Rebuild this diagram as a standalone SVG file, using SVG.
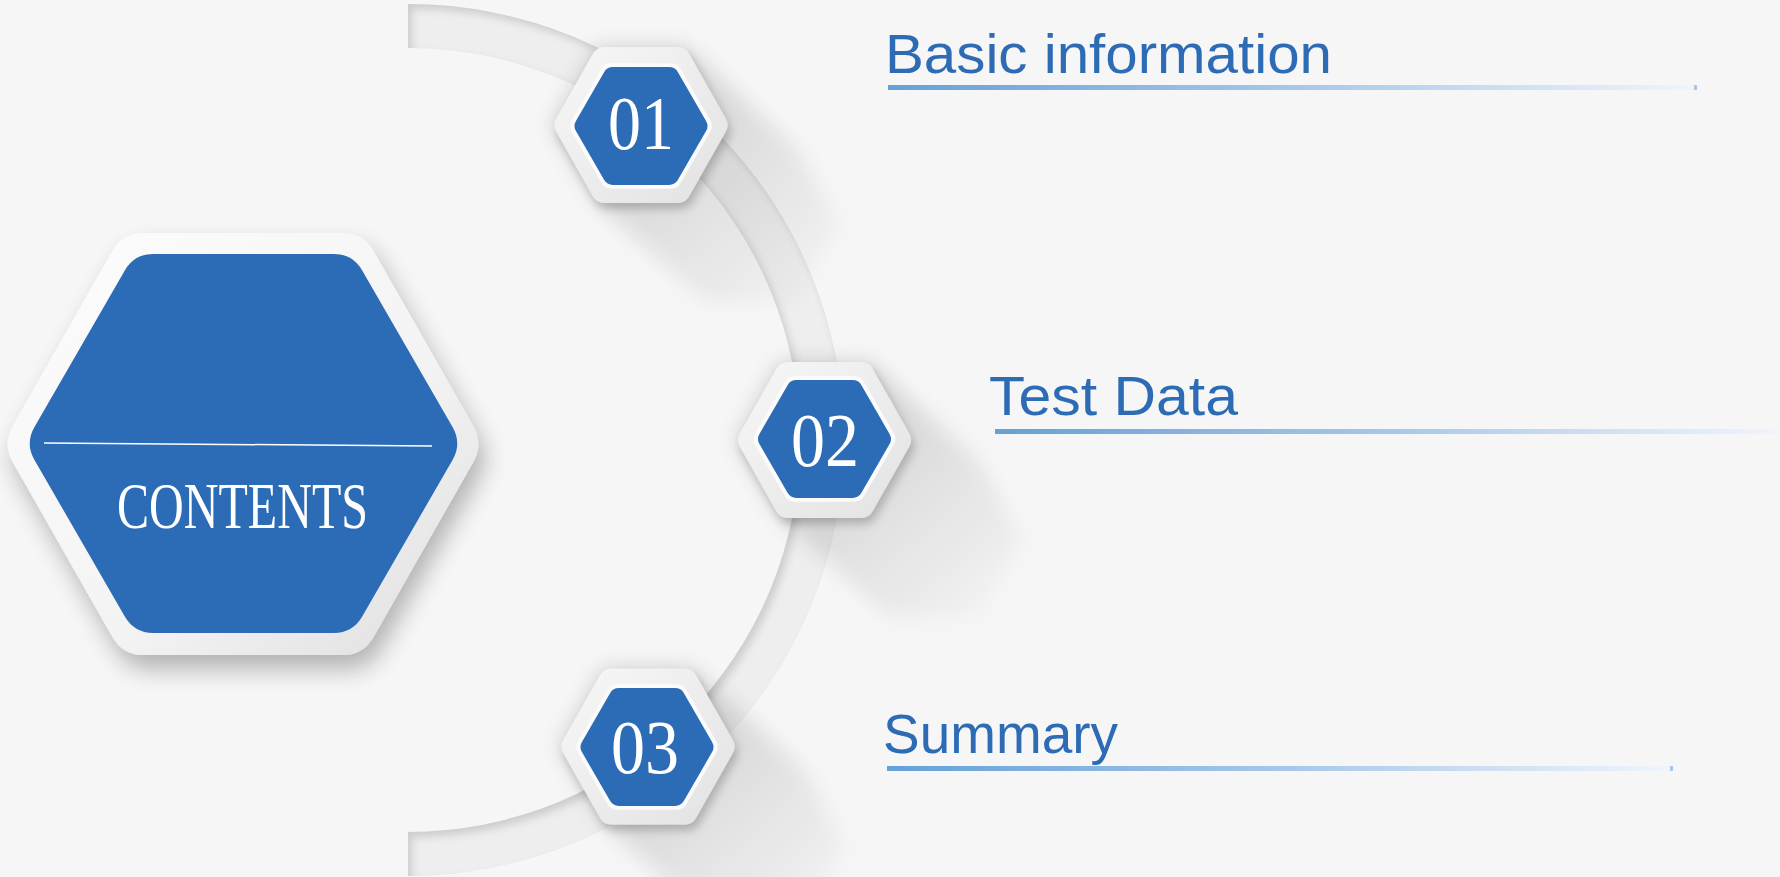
<svg xmlns="http://www.w3.org/2000/svg" width="1780" height="877" viewBox="0 0 1780 877">
<defs>
<style>
.blue{fill:#2c6cb6}
.num{font-family:"Liberation Serif","Times New Roman",serif;fill:#ffffff;font-size:76px;text-anchor:middle}
.lbl{font-family:"Liberation Sans",Arial,sans-serif;fill:#2d6cb5;font-size:56px}
.ul{fill:url(#ulg)}
.tick{fill:#a8c7e8}
</style>
<path id="hex" d="M-95.67,-7.5 L-54.33,-79.1 Q-50,-86.6 -41.34,-86.6 L41.34,-86.6 Q50,-86.6 54.33,-79.1 L95.67,-7.5 Q100,0 95.67,7.5 L54.33,79.1 Q50,86.6 41.34,86.6 L-41.34,86.6 Q-50,86.6 -54.33,79.1 L-95.67,7.5 Q-100,0 -95.67,-7.5 Z"/>
<linearGradient id="ulg" x1="0" y1="0" x2="1" y2="0">
<stop offset="0" stop-color="#66a0d8"/>
<stop offset="0.5" stop-color="#a6c7e9"/>
<stop offset="1" stop-color="#f0f5fb"/>
</linearGradient>
<linearGradient id="outerG" x1="0" y1="0" x2="1" y2="1">
<stop offset="0" stop-color="#fdfdfd"/>
<stop offset="0.6" stop-color="#f3f3f3"/>
<stop offset="1" stop-color="#dedede"/>
</linearGradient>
<linearGradient id="smallG" x1="0" y1="0" x2="1" y2="1">
<stop offset="0" stop-color="#f7f7f7"/>
<stop offset="1" stop-color="#e2e2e2"/>
</linearGradient>
<linearGradient id="longSh" x1="0.2" y1="0.2" x2="1" y2="1">
<stop offset="0" stop-color="#000" stop-opacity="0.16"/>
<stop offset="1" stop-color="#000" stop-opacity="0"/>
</linearGradient>
<filter id="drop" x="-20%" y="-20%" width="150%" height="150%">
<feGaussianBlur in="SourceAlpha" stdDeviation="12"/>
<feOffset dx="6" dy="14"/>
<feComponentTransfer><feFuncA type="linear" slope="0.28"/></feComponentTransfer>
<feMerge><feMergeNode/><feMergeNode in="SourceGraphic"/></feMerge>
</filter>
<filter id="dropS" x="-30%" y="-30%" width="170%" height="170%">
<feGaussianBlur in="SourceAlpha" stdDeviation="5"/>
<feOffset dx="3" dy="6"/>
<feComponentTransfer><feFuncA type="linear" slope="0.22"/></feComponentTransfer>
<feMerge><feMergeNode/><feMergeNode in="SourceGraphic"/></feMerge>
</filter>
<filter id="blur8" x="-30%" y="-30%" width="160%" height="160%">
<feGaussianBlur stdDeviation="10"/>
</filter>
<filter id="inset" x="-10%" y="-10%" width="120%" height="120%">
<feFlood flood-color="#000" flood-opacity="0.3"/>
<feComposite in2="SourceAlpha" operator="out"/>
<feOffset dx="4" dy="5"/>
<feGaussianBlur stdDeviation="4" result="sh"/>
<feComposite in="sh" in2="SourceAlpha" operator="in" result="inner"/>
<feMerge><feMergeNode in="SourceGraphic"/><feMergeNode in="inner"/></feMerge>
</filter>
</defs>
<rect width="1780" height="877" fill="#f6f6f6"/>

<g id="connectors">
<path d="M408,4 A436,436 0 0 1 408,876 L408,832 A392,392 0 0 0 408,48 Z" fill="#eeeeee" filter="url(#inset)"/>
</g>

<g id="contents">
<g filter="url(#drop)"><use href="#hex" transform="translate(243,444) scale(2.405,2.436)" fill="url(#outerG)"/></g>
<use href="#hex" transform="translate(243.5,443.5) scale(2.185,2.188)" class="blue"/>
<line x1="44" y1="443" x2="432" y2="446" stroke="#ffffff" stroke-width="1.5"/>
<text x="242.5" y="528" font-family="Liberation Serif, Times New Roman, serif" font-size="65" fill="#ffffff" text-anchor="middle" textLength="251" lengthAdjust="spacingAndGlyphs">CONTENTS</text>
</g>

<g id="item-01">
<path d="M685,47 L795,147 L840,225 L795,303 L707,303 L597,203 L552,125 L597,47 Z" fill="url(#longSh)" filter="url(#blur8)"/>
<g filter="url(#dropS)"><use href="#hex" transform="translate(641,125) scale(0.885,0.9)" fill="url(#smallG)"/></g>
<use href="#hex" transform="translate(641,126) scale(0.725,0.725)" fill="#fbfbfb"/>
<use href="#hex" transform="translate(641,126) scale(0.68,0.681)" class="blue"/>
<text class="num" x="641" y="149" textLength="66" lengthAdjust="spacingAndGlyphs">01</text>
</g>

<g id="item-02">
<path d="M869,362 L979,462 L1023,540 L979,618 L890,618 L780,518 L736,440 L780,362 Z" fill="url(#longSh)" filter="url(#blur8)"/>
<g filter="url(#dropS)"><use href="#hex" transform="translate(824.5,440) scale(0.885,0.9)" fill="url(#smallG)"/></g>
<use href="#hex" transform="translate(824.5,439) scale(0.725,0.725)" fill="#fbfbfb"/>
<use href="#hex" transform="translate(824.5,439) scale(0.68,0.681)" class="blue"/>
<text class="num" x="825" y="466" textLength="68" lengthAdjust="spacingAndGlyphs">02</text>
</g>

<g id="item-03">
<path d="M692,668 L802,768 L846,846 L802,924 L714,924 L604,824 L559,746 L604,668 Z" fill="url(#longSh)" filter="url(#blur8)"/>
<g filter="url(#dropS)"><use href="#hex" transform="translate(648,746.5) scale(0.885,0.9)" fill="url(#smallG)"/></g>
<use href="#hex" transform="translate(647,747) scale(0.725,0.725)" fill="#fbfbfb"/>
<use href="#hex" transform="translate(647,747) scale(0.68,0.681)" class="blue"/>
<text class="num" x="645" y="773" textLength="68" lengthAdjust="spacingAndGlyphs">03</text>
</g>

<g id="label-01">
<text class="lbl" x="885" y="73" textLength="447" lengthAdjust="spacingAndGlyphs">Basic information</text>
<rect class="ul" x="888" y="85" width="809" height="5"/>
<rect class="tick" x="1694" y="85" width="3" height="5"/>
</g>

<g id="label-02">
<text class="lbl" x="989" y="415" textLength="249" lengthAdjust="spacingAndGlyphs">Test Data</text>
<rect class="ul" x="995" y="429" width="785" height="5"/>
</g>

<g id="label-03">
<text class="lbl" x="883" y="753" textLength="235" lengthAdjust="spacingAndGlyphs">Summary</text>
<rect class="ul" x="887" y="766" width="786" height="5"/>
<rect class="tick" x="1670" y="766" width="3" height="5"/>
</g>
</svg>
